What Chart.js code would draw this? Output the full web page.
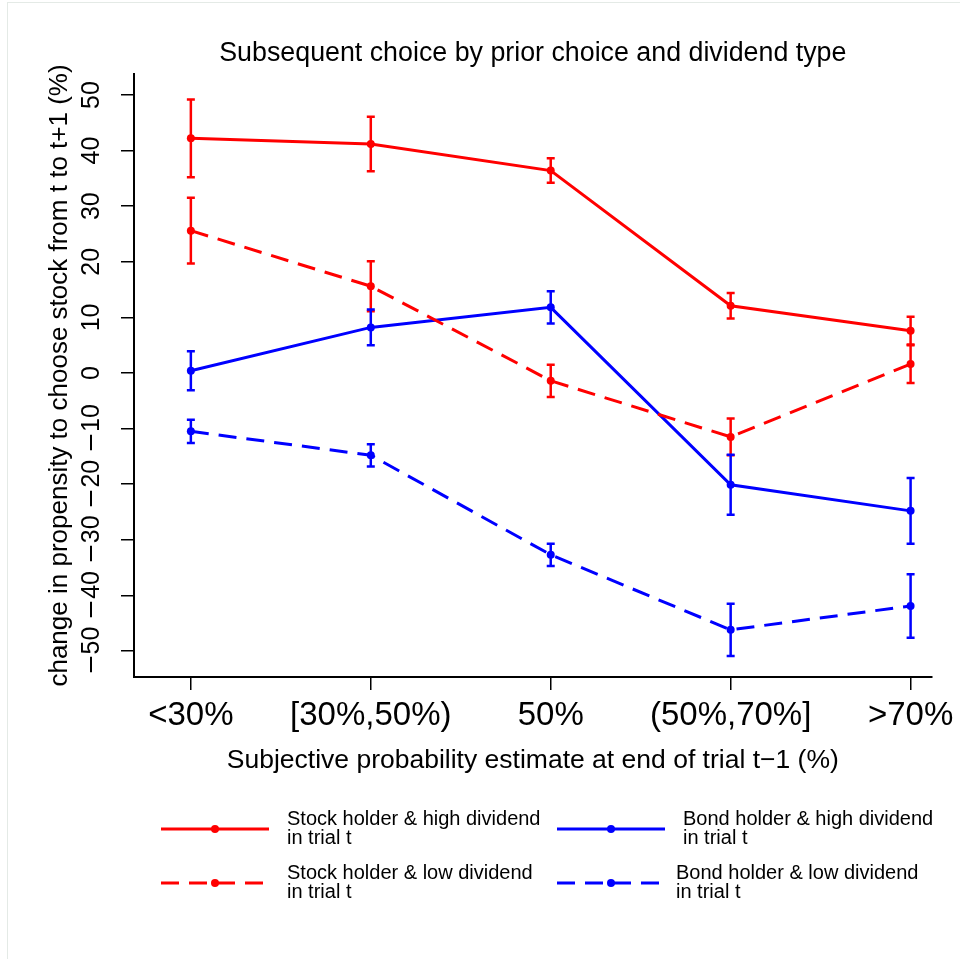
<!DOCTYPE html>
<html>
<head>
<meta charset="utf-8">
<title>Subsequent choice by prior choice and dividend type</title>
<script src="https://cdn.jsdelivr.net/npm/chart.js@4.4.1/dist/chart.umd.min.js"></script>
<style>
  /* broader minus sign for the negative tick labels */
  @font-face {
    font-family: 'WideMinus';
    src: local('DejaVu Sans'), local('DejaVuSans'), local('DejaVu Sans Book');
    unicode-range: U+2212;
  }
  html, body { margin: 0; padding: 0; background: #fff; }
  #wrap { width: 960px; height: 959px; }
  canvas { display: block; }
</style>
</head>
<body>
<div id="wrap"><canvas id="chart" width="960" height="959"></canvas></div>
<script>
// Categories: subjective probability estimate at end of trial t-1
const categories = ['<30%', '[30%,50%)', '50%', '(50%,70%]', '>70%'];

// Change in propensity to choose stock (%), with error-bar half widths
const stockHigh    = [42.2, 41.2, 36.4, 12.1, 7.6];
const stockHighErr = [7.0, 4.9, 2.2, 2.3, 2.5];
const stockLow     = [25.6, 15.6, -1.4, -11.5, 1.6];
const stockLowErr  = [5.9, 4.5, 2.9, 3.3, 3.4];
const bondHigh     = [0.4, 8.2, 11.8, -20.1, -24.8];
const bondHighErr  = [3.5, 3.2, 2.9, 5.4, 5.9];
const bondLow      = [-10.5, -14.8, -32.7, -46.2, -41.9];
const bondLowErr   = [2.1, 2.0, 2.0, 4.7, 5.7];

// Y axis tick values
const yTicks = [-50, -40, -30, -20, -10, 0, 10, 20, 30, 40, 50];

const legendLabels = [
  ['Stock holder & high dividend', 'in trial t'],
  ['Bond holder & high dividend', 'in trial t'],
  ['Stock holder & low dividend', 'in trial t'],
  ['Bond holder & low dividend', 'in trial t']
];

const RED = '#ff0000';
const BLUE = '#0000ff';
const DASH = [18, 10];
const FONT = "'Liberation Sans', Arial, sans-serif";

const fmtTick = v => (v < 0 ? '\u2212' + Math.abs(v) : String(v));
const toPoints = arr => arr.map((v, i) => ({ x: i + 1, y: v }));

function series(label, values, errs, color, dashed) {
  return {
    label,
    data: toPoints(values),
    errors: errs,
    borderColor: color,
    backgroundColor: color,
    borderWidth: 3,
    borderDash: dashed ? DASH : [],
    pointRadius: 4,
    pointHoverRadius: 4,
    pointBorderWidth: 0,
    pointBackgroundColor: color,
    tension: 0,
    fill: false
  };
}

// White page and faint outer frame
const pageBackground = {
  id: 'pageBackground',
  beforeDraw(chart) {
    const ctx = chart.ctx;
    ctx.save();
    ctx.fillStyle = '#ffffff';
    ctx.fillRect(0, 0, chart.width, chart.height);
    ctx.strokeStyle = '#e4eae6';
    ctx.lineWidth = 1;
    ctx.strokeRect(7.5, 2.5, 1200, 1200);
    ctx.restore();
  }
};

// Vertical error bars with caps
const errorBars = {
  id: 'errorBars',
  afterDatasetsDraw(chart) {
    const { ctx, scales: { x, y } } = chart;
    chart.data.datasets.forEach(ds => {
      ctx.save();
      ctx.strokeStyle = ds.borderColor;
      ctx.lineWidth = 2.5;
      ctx.setLineDash([]);
      ds.data.forEach((pt, j) => {
        const e = ds.errors[j];
        const px = x.getPixelForValue(pt.x);
        const top = y.getPixelForValue(pt.y + e);
        const bot = y.getPixelForValue(pt.y - e);
        ctx.beginPath();
        ctx.moveTo(px, top); ctx.lineTo(px, bot);
        ctx.moveTo(px - 4, top); ctx.lineTo(px + 4, top);
        ctx.moveTo(px - 4, bot); ctx.lineTo(px + 4, bot);
        ctx.stroke();
      });
      ctx.restore();
    });
  }
};

// Two-column legend under the x axis title
const bottomLegend = {
  id: 'bottomLegend',
  afterDraw(chart) {
    const ctx = chart.ctx;
    const ds = chart.data.datasets;
    const order = [0, 2, 1, 3];
    const slots = [
      { x0: 161, x1: 269, y: 829, tx: 287 },
      { x0: 557, x1: 665, y: 829, tx: 683 },
      { x0: 161, x1: 269, y: 883, tx: 287 },
      { x0: 557, x1: 665, y: 883, tx: 676 }
    ];
    ctx.save();
    slots.forEach((s, k) => {
      const d = ds[order[k]];
      ctx.strokeStyle = d.borderColor;
      ctx.lineWidth = 3;
      ctx.setLineDash(d.borderDash || []);
      ctx.beginPath();
      ctx.moveTo(s.x0, s.y);
      ctx.lineTo(s.x1, s.y);
      ctx.stroke();
      ctx.setLineDash([]);
      ctx.fillStyle = d.borderColor;
      ctx.beginPath();
      ctx.arc((s.x0 + s.x1) / 2, s.y, 4, 0, Math.PI * 2);
      ctx.fill();
      ctx.fillStyle = '#000';
      ctx.font = "20px " + FONT;
      ctx.textAlign = 'left';
      ctx.textBaseline = 'middle';
      const lines = legendLabels[k];
      ctx.fillText(lines[0], s.tx, s.y - 9.5);
      ctx.fillText(lines[1], s.tx, s.y + 9.5);
    });
    ctx.restore();
  }
};

function build(tickFamily, tickSize) {
  Chart.defaults.font.family = FONT;
  Chart.defaults.color = '#000';

  // place rotated y labels so their centre sits at x = 92
  const m = document.createElement('canvas').getContext('2d');
  m.font = tickSize + 'px ' + tickFamily;
  const widest = Math.max(...yTicks.map(v => m.measureText(fmtTick(v)).width));
  const yPad = Math.max(0, 134 - 13 - 92 - widest / 2);

  new Chart(document.getElementById('chart'), {
    type: 'line',
    data: {
      datasets: [
        series('Stock holder & high dividend in trial t', stockHigh, stockHighErr, RED, false),
        series('Stock holder & low dividend in trial t', stockLow, stockLowErr, RED, true),
        series('Bond holder & high dividend in trial t', bondHigh, bondHighErr, BLUE, false),
        series('Bond holder & low dividend in trial t', bondLow, bondLowErr, BLUE, true)
      ]
    },
    options: {
      responsive: false,
      animation: false,
      events: [],
      layout: { padding: { left: 0, right: 27.3, top: 0, bottom: 182 } },
      plugins: {
        legend: { display: false },
        tooltip: { enabled: false },
        title: {
          display: true,
          fullSize: false,
          text: 'Subsequent choice by prior choice and dividend type',
          color: '#000',
          font: { size: 26.8, weight: 'normal', lineHeight: 1.2 },
          padding: { top: 37.9, bottom: 3.9 }
        }
      },
      scales: {
        x: {
          type: 'linear',
          min: 0.684,
          max: 5.117,
          afterBuildTicks: s => { s.ticks = categories.map((_, i) => ({ value: i + 1 })); },
          afterFit: s => { s.height = 100; },
          grid: { drawOnChartArea: false, drawTicks: true, tickLength: 13, color: '#000', lineWidth: 1.5 },
          border: { display: true, color: '#000', width: 2 },
          ticks: {
            autoSkip: false, minRotation: 0, maxRotation: 0, padding: 6,
            color: '#000', font: { size: 33 },
            callback: v => categories[Math.round(v) - 1] ?? ''
          },
          title: {
            display: true,
            text: 'Subjective probability estimate at end of trial t\u22121 (%)',
            color: '#000',
            font: { size: 26.5, lineHeight: 1.2 },
            padding: { top: 0, bottom: 0 }
          }
        },
        y: {
          type: 'linear',
          min: -54.68,
          max: 53.78,
          afterBuildTicks: s => { s.ticks = yTicks.map(v => ({ value: v })); },
          afterFit: s => { s.width = 134; },
          grid: { drawOnChartArea: false, drawTicks: true, tickLength: 13, color: '#000', lineWidth: 1.5 },
          border: { display: true, color: '#000', width: 2 },
          ticks: {
            autoSkip: false, minRotation: 90, maxRotation: 90, crossAlign: 'center',
            padding: yPad, color: '#000', font: { size: tickSize, family: tickFamily },
            callback: v => fmtTick(v)
          },
          title: {
            display: true,
            text: 'change in propensity to choose stock from t to t+1 (%)',
            color: '#000',
            font: { size: 26, lineHeight: 1.2 },
            padding: { top: 44.4, bottom: 0 }
          }
        }
      }
    },
    plugins: [pageBackground, errorBars, bottomLegend]
  });
}

// Prefer Liberation digits with the broader minus; otherwise use DejaVu throughout
document.fonts.load('25px WideMinus', '\u2212').then(
  faces => {
    if (faces && faces.length) build("'WideMinus', 'Liberation Sans', sans-serif", 25);
    else build("'DejaVu Sans', 'Liberation Sans', sans-serif", 24);
  },
  () => build("'DejaVu Sans', 'Liberation Sans', sans-serif", 24)
);
</script>
</body>
</html>
